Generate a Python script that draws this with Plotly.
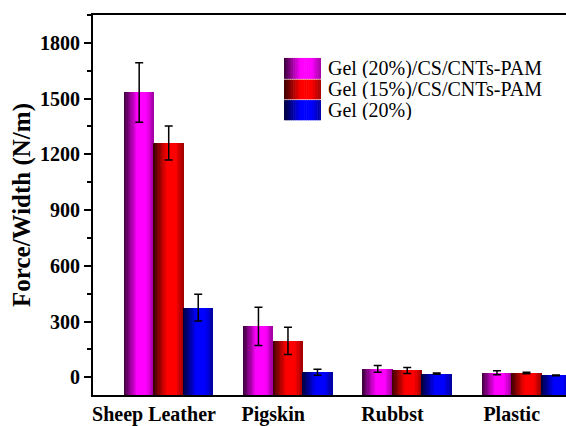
import plotly.graph_objects as go

# Peel strength on different substrates
categories = ["Sheep Leather", "Pigskin", "Rubbst", "Plastic"]
series_names = ["Gel (20%)/CS/CNTs-PAM", "Gel (15%)/CS/CNTs-PAM", "Gel (20%)"]
gel20_cs_cnts = [1533, 274, 46, 25]
gel15_cs_cnts = [1261, 196, 37, 23]
gel20 = [375, 27, 20, 11]
gel20_cs_cnts_err = [160, 103, 18, 11]
gel15_cs_cnts_err = [92, 73, 16, 4]
gel20_err = [72, 16, 3, 2]
y_ticks = [0, 300, 600, 900, 1200, 1500, 1800]

values = [gel20_cs_cnts, gel15_cs_cnts, gel20]
errors = [gel20_cs_cnts_err, gel15_cs_cnts_err, gel20_err]
base_colors = [(255, 0, 255), (255, 0, 0), (0, 0, 255)]

Y_MIN, Y_MAX = -95, 1950
X_MIN, X_MAX = -0.511, 3.455
BAR_W = 0.2475
N_SLICES = 24
FONT = "Liberation Serif"

# brightness across a bar, left edge -> right edge (cylinder-like shading)
shade_stops = [(0.0, 0.22), (0.45, 1.0), (0.75, 1.0), (1.0, 0.62)]


def shade(t):
    for (t0, v0), (t1, v1) in zip(shade_stops[:-1], shade_stops[1:]):
        if t0 <= t <= t1:
            return v0 + (v1 - v0) * (t - t0) / (t1 - t0)
    return shade_stops[-1][1]


def slice_color(rgb, t):
    k = shade(t)
    r, g, b = (int(round(c * k)) for c in rgb)
    return f"rgb({r},{g},{b})"


xpos = list(range(len(categories)))
fig = go.Figure()

step = BAR_W / N_SLICES
for s, (vals, errs, rgb) in enumerate(zip(values, errors, base_colors)):
    # series centres sit at tick + (s - 0.5) * bar width
    centre = (s - 0.5) * BAR_W
    left = centre - BAR_W / 2
    heights = [v - Y_MIN for v in vals]
    for k in range(N_SLICES):
        t = (k + 0.5) / N_SLICES
        w = step * (1.0 if k == N_SLICES - 1 else 1.35)
        fig.add_trace(go.Bar(
            x=xpos, y=heights, base=Y_MIN,
            offset=left + k * step, width=w,
            marker=dict(color=slice_color(rgb, t), line=dict(width=0)),
            showlegend=False, hoverinfo="skip",
        ))
    # error bars at the bar tops
    fig.add_trace(go.Scatter(
        x=[p + centre for p in xpos], y=vals,
        mode="markers", marker=dict(size=0.1, color="rgba(0,0,0,0)"),
        error_y=dict(type="data", array=errs, color="black",
                     thickness=1.5, width=4),
        showlegend=False, name=series_names[s],
    ))

# legend: gradient swatches + labels (paper coordinates)
sw_x0, sw_x1 = 0.4038, 0.482
sw_rows = [(0.832, 0.887), (0.778, 0.830), (0.723, 0.776)]
for s, ((y0, y1), rgb) in enumerate(zip(sw_rows, base_colors)):
    n = 20
    dx = (sw_x1 - sw_x0) / n
    for k in range(n):
        t = (k + 0.5) / n
        fig.add_shape(type="rect", xref="paper", yref="paper",
                      x0=sw_x0 + k * dx, x1=sw_x0 + (k + 1.3 if k < n - 1 else k + 1) * dx,
                      y0=y0, y1=y1, line=dict(width=0),
                      fillcolor=slice_color(rgb, t), layer="above")
    fig.add_annotation(xref="paper", yref="paper", x=0.494, y=(y0 + y1) / 2,
                       text=series_names[s], showarrow=False,
                       xanchor="left", yanchor="middle", height=20,
                       borderpad=0,
                       font=dict(family=FONT, size=20, color="black"))

fig.update_layout(
    width=566, height=426,
    margin=dict(l=93, r=0, t=15, b=28),
    paper_bgcolor="white", plot_bgcolor="white",
    barmode="overlay", bargap=0,
    showlegend=False,
    font=dict(family=FONT, color="black"),
)
fig.update_xaxes(
    range=[X_MIN, X_MAX], tickvals=xpos, ticktext=categories,
    showgrid=False, zeroline=False, ticks="",
    showline=True, linecolor="black", linewidth=2, mirror=True,
    tickfont=dict(family=FONT, size=20, weight="bold", color="black"),
)
fig.update_yaxes(
    range=[Y_MIN, Y_MAX], tickvals=y_ticks,
    showgrid=False, zeroline=False,
    ticks="outside", ticklen=7, tickwidth=1.5, tickcolor="black",
    minor=dict(dtick=150, tick0=0, ticks="outside", ticklen=4,
               tickwidth=1.5, tickcolor="black"),
    showline=True, linecolor="black", linewidth=2, mirror=False,
    tickfont=dict(family=FONT, size=20, weight="bold", color="black"),
    title=dict(text="Force/Width (N/m)", standoff=2,
               font=dict(family=FONT, size=25, weight="bold", color="black")),
)

fig.write_html("out.html")
